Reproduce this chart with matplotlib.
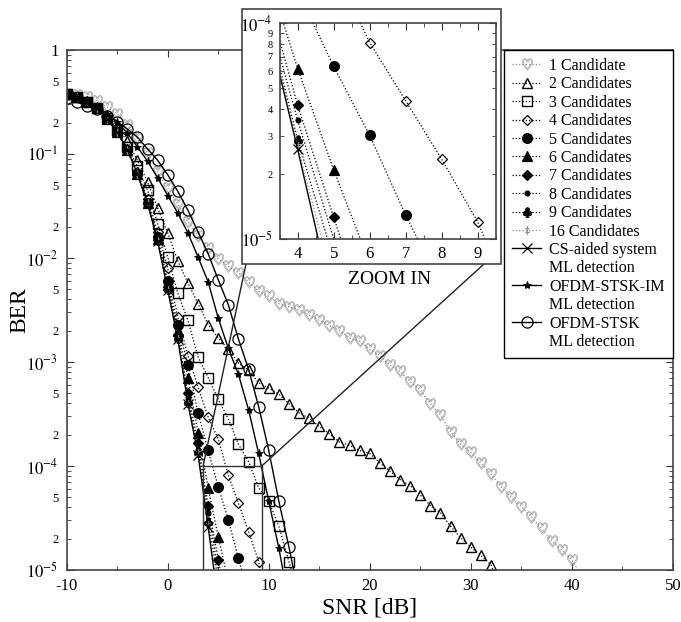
import numpy as np
import matplotlib
matplotlib.use("Agg")
import matplotlib.pyplot as plt
from matplotlib.ticker import LogLocator, FuncFormatter, MultipleLocator
from matplotlib.lines import Line2D
from matplotlib.patches import Rectangle, ConnectionPatch

plt.rcParams['font.family'] = ['Liberation Serif', 'DejaVu Serif']
plt.rcParams['mathtext.fontset'] = 'stix'
plt.rcParams['axes.unicode_minus'] = False

# BER, one value per dB starting at -10 dB
# end_* = SNR where the curve leaves the plot at BER = 1e-5
ber_1 = [3.80e-1, 3.72e-1, 3.55e-1, 3.24e-1, 2.82e-1, 2.45e-1, 1.91e-1, 1.41e-1, 1.02e-1, 6.76e-2,
         4.68e-2, 3.31e-2, 2.24e-2, 1.62e-2, 1.26e-2, 9.77e-3, 8.32e-3, 7.24e-3, 5.89e-3, 4.79e-3,
         4.27e-3, 3.63e-3, 3.39e-3, 3.16e-3, 2.82e-3, 2.51e-3, 2.24e-3, 2.00e-3, 1.70e-3, 1.58e-3,
         1.32e-3, 1.15e-3, 9.33e-4, 8.13e-4, 6.46e-4, 5.37e-4, 3.98e-4, 3.09e-4, 2.14e-4, 1.62e-4,
         1.35e-4, 1.07e-4, 8.32e-5, 6.31e-5, 5.01e-5, 4.07e-5, 3.24e-5, 2.51e-5, 1.91e-5, 1.55e-5,
         1.26e-5]
end_1 = 40.6
ber_2 = [3.80e-1, 3.55e-1, 3.24e-1, 2.82e-1, 2.34e-1, 1.82e-1, 1.32e-1, 8.71e-2, 5.37e-2, 3.02e-2,
         1.74e-2, 9.33e-3, 5.75e-3, 3.63e-3, 2.29e-3, 1.70e-3, 1.32e-3, 9.77e-4, 8.32e-4, 6.31e-4,
         5.62e-4, 4.90e-4, 3.98e-4, 3.24e-4, 2.88e-4, 2.40e-4, 2.04e-4, 1.70e-4, 1.58e-4, 1.41e-4,
         1.32e-4, 1.07e-4, 8.91e-5, 7.41e-5, 6.46e-5, 5.25e-5, 4.17e-5, 3.55e-5, 2.63e-5, 2.04e-5,
         1.66e-5, 1.38e-5, 1.12e-5]
end_2 = 32.2
ber_3 = [3.80e-1, 3.55e-1, 3.16e-1, 2.75e-1, 2.24e-1, 1.70e-1, 1.17e-1, 7.59e-2, 4.47e-2, 2.14e-2,
         1.02e-2, 4.57e-3, 2.51e-3, 1.12e-3, 7.08e-4, 4.37e-4, 2.82e-4, 1.62e-4, 1.10e-4, 6.17e-5,
         4.57e-5, 2.63e-5, 1.20e-5]
end_3 = 12.25
ber_4 = [3.80e-1, 3.55e-1, 3.16e-1, 2.75e-1, 2.19e-1, 1.66e-1, 1.12e-1, 6.76e-2, 3.72e-2, 1.78e-2,
         7.94e-3, 2.69e-3, 1.15e-3, 5.75e-4, 2.95e-4, 1.82e-4, 8.13e-5, 4.37e-5, 2.34e-5, 1.20e-5]
end_4 = 9.2
ber_5 = [3.80e-1, 3.55e-1, 3.16e-1, 2.75e-1, 2.19e-1, 1.62e-1, 1.10e-1, 6.46e-2, 3.39e-2, 1.58e-2,
         6.03e-3, 2.29e-3, 9.33e-4, 3.24e-4, 1.41e-4, 6.31e-5, 3.02e-5, 1.29e-5]
end_5 = 7.33
ber_6 = [3.80e-1, 3.55e-1, 3.16e-1, 2.75e-1, 2.19e-1, 1.62e-1, 1.10e-1, 6.46e-2, 3.39e-2, 1.51e-2,
         5.50e-3, 2.00e-3, 7.08e-4, 2.09e-4, 6.17e-5, 2.09e-5]
end_6 = 5.74
ber_7 = [3.80e-1, 3.55e-1, 3.16e-1, 2.75e-1, 2.19e-1, 1.62e-1, 1.10e-1, 6.46e-2, 3.39e-2, 1.48e-2,
         5.25e-3, 1.82e-3, 5.01e-4, 1.66e-4, 4.17e-5, 1.26e-5]
end_7 = 5.2
ber_8 = [3.80e-1, 3.55e-1, 3.16e-1, 2.75e-1, 2.19e-1, 1.62e-1, 1.10e-1, 6.46e-2, 3.39e-2, 1.48e-2,
         5.01e-3, 1.74e-3, 4.47e-4, 1.41e-4, 3.55e-5]
end_8 = 5.0
ber_9 = [3.80e-1, 3.55e-1, 3.16e-1, 2.75e-1, 2.19e-1, 1.62e-1, 1.10e-1, 6.46e-2, 3.39e-2, 1.48e-2,
         5.01e-3, 1.70e-3, 4.17e-4, 1.35e-4, 2.88e-5]
end_9 = 4.83
ber_16 = [3.80e-1, 3.55e-1, 3.16e-1, 2.75e-1, 2.19e-1, 1.62e-1, 1.10e-1, 6.46e-2, 3.39e-2, 1.45e-2,
          4.90e-3, 1.66e-3, 3.98e-4, 1.32e-4, 2.69e-5]
end_16 = 4.67
ber_cs = [3.80e-1, 3.55e-1, 3.16e-1, 2.75e-1, 2.19e-1, 1.62e-1, 1.10e-1, 6.46e-2, 3.39e-2, 1.45e-2,
          4.90e-3, 1.66e-3, 3.98e-4, 1.29e-4, 2.60e-5]
end_cs = 4.57
ber_im = [3.72e-1, 3.47e-1, 3.16e-1, 2.82e-1, 2.45e-1, 2.04e-1, 1.58e-1, 1.17e-1, 8.51e-2, 5.89e-2,
          3.98e-2, 2.69e-2, 1.74e-2, 1.02e-2, 5.89e-3, 2.63e-3, 1.35e-3, 7.59e-4, 3.47e-4, 1.32e-4,
          4.57e-5, 1.62e-5]
end_im = 11.4
ber_stsk = [3.47e-1, 3.16e-1, 2.88e-1, 2.69e-1, 2.34e-1, 2.04e-1, 1.74e-1, 1.45e-1, 1.12e-1, 8.71e-2,
            6.31e-2, 4.37e-2, 2.88e-2, 1.78e-2, 1.10e-2, 6.17e-3, 3.55e-3, 1.66e-3, 8.51e-4, 3.72e-4,
            1.41e-4, 4.57e-5, 1.66e-5]
end_stsk = 12.47

snr_start = -10
ber_floor = 1e-5

gray = '#8c8c8c'
series = [
    # label, ber, end, marker, size, color, facecolor, linestyle, edge width
    ('1 Candidate', ber_1, end_1, r'$\heartsuit$', 8.5, gray, 'none', ':', 0.4),
    ('2 Candidates', ber_2, end_2, '^', 7, 'k', 'none', ':', 1.0),
    ('3 Candidates', ber_3, end_3, 's', 6.5, 'k', 'none', ':', 1.0),
    ('4 Candidates', ber_4, end_4, 'D', 5, 'k', 'none', ':', 0.9),
    ('5 Candidates', ber_5, end_5, 'o', 7, 'k', 'k', ':', 0.9),
    ('6 Candidates', ber_6, end_6, '^', 7, 'k', 'k', ':', 0.9),
    ('7 Candidates', ber_7, end_7, 'D', 5.5, 'k', 'k', ':', 0.9),
    ('8 Candidates', ber_8, end_8, 'o', 3.5, 'k', 'k', ':', 0.9),
    ('9 Candidates', ber_9, end_9, r'$\clubsuit$', 7, 'k', 'k', ':', 0.5),
    ('16 Candidates', ber_16, end_16, r'$\ddag$', 6, gray, gray, ':', 0.4),
    ('CS-aided system', ber_cs, end_cs, 'x', 7, 'k', 'k', '-', 0.9),
    ('OFDM-STSK-IM', ber_im, end_im, '*', 6, 'k', 'k', '-', 0.6),
    ('OFDM-STSK', ber_stsk, end_stsk, 'o', 8, 'k', 'none', '-', 0.9),
]
inset_series = series[3:11]  # 4 ... 16 candidates and the CS-aided curve

fig = plt.figure(figsize=(6.81, 6.22), dpi=100)
ax = fig.add_axes([0.098, 0.0836, 0.890, 0.836])
axin = fig.add_axes([0.4107, 0.6158, 0.3172, 0.3468], zorder=5)


def draw(a, items):
    lines = []
    for label, ber, end, mk, ms, col, mfc, ls, mew in items:
        snr = np.arange(snr_start, snr_start + len(ber))
        xs = np.append(snr, end)
        ys = np.append(ber, ber_floor)
        lw = 0.9 if ls == ':' else 1.0
        ln, = a.plot(xs, ys, linestyle=ls, color=col, lw=lw, marker=mk, ms=ms,
                     mfc=mfc, mec=col, mew=mew, markevery=list(range(len(ber))), label=label)
        lines.append(ln)
    return lines


lines = draw(ax, series)
draw(axin, inset_series)

# main axes
ax.set_yscale('log')
ax.set_xlim(-10, 50)
ax.set_ylim(1e-5, 1)
ax.xaxis.set_major_locator(MultipleLocator(10))
ax.xaxis.set_minor_locator(MultipleLocator(5))
ax.yaxis.set_major_locator(LogLocator(base=10, numticks=10))
ax.yaxis.set_minor_locator(LogLocator(base=10, subs=np.arange(2, 10), numticks=10))


def major_fmt(v, p):
    e = int(round(np.log10(v)))
    return '1' if e == 0 else rf'$10^{{{e}}}$'


def minor_fmt(v, p):
    e = np.floor(np.log10(v) + 1e-9)
    d = int(round(v / 10 ** e))
    return str(d) if d in (2, 5) else ''


ax.yaxis.set_major_formatter(FuncFormatter(major_fmt))
ax.yaxis.set_minor_formatter(FuncFormatter(minor_fmt))
ax.tick_params(which='both', direction='in', top=True, right=True, colors='#333333')
ax.tick_params(which='major', length=5, labelsize=12, pad=6, labelcolor='k')
ax.tick_params(which='minor', length=3, labelsize=9, pad=6, labelcolor='k')
ax.tick_params(axis='x', which='minor', labelbottom=False)
for s in ax.spines.values():
    s.set_color('#444444')
    s.set_linewidth(1.2)
ax.set_xlabel('SNR [dB]', fontsize=17, labelpad=2)
ax.set_ylabel('BER', fontsize=17, labelpad=-3)

# zoomed region marker on the main axes
zx0, zx1, zy0, zy1 = 3.5, 9.3, 1e-5, 1e-4
ax.plot([zx0, zx0, zx1, zx1], [zy0, zy1, zy1, zy0], color='#333333', lw=1.0)

# legend (two-line entries split into a marker row and a text-only row)
blank = Line2D([], [], linestyle='none', marker='none')
handles = lines[:10] + [lines[10], blank, lines[11], blank, lines[12], blank]
labels = [l.get_label() for l in lines[:10]] + [
    'CS-aided system', 'ML detection', 'OFDM-STSK-IM', 'ML detection', 'OFDM-STSK', 'ML detection']
leg = ax.legend(handles, labels, loc='upper right', borderaxespad=0, fontsize=11.5,
                labelspacing=0.15, handlelength=1.8, handletextpad=0.5, borderpad=0.5,
                numpoints=1, fancybox=False, edgecolor='k', framealpha=1)
leg.get_frame().set_linewidth(1.0)

# inset
axin.set_yscale('log')
axin.set_xlim(3.5, 9.5)
axin.set_ylim(1e-5, 1e-4)
axin.xaxis.set_major_locator(MultipleLocator(1))
axin.xaxis.set_minor_locator(MultipleLocator(0.5))
axin.yaxis.set_major_locator(LogLocator(base=10, numticks=5))
axin.yaxis.set_minor_locator(LogLocator(base=10, subs=np.arange(2, 10), numticks=5))
axin.yaxis.set_major_formatter(FuncFormatter(major_fmt))
axin.yaxis.set_minor_formatter(FuncFormatter(lambda v, p: str(int(round(v / 1e-5)))))
axin.tick_params(which='both', direction='in', top=True, right=True, colors='#333333')
axin.tick_params(which='major', length=5, labelsize=12, pad=5, labelcolor='k')
axin.tick_params(which='minor', length=3, labelsize=7.5, pad=5, labelcolor='k')
axin.tick_params(axis='x', which='minor', labelbottom=False)
for s in axin.spines.values():
    s.set_color('#444444')
    s.set_linewidth(1.2)

# frame round the inset and the connecting lines
W, H = 681.0, 622.0
box = Rectangle((242 / W, 1 - 264 / H), 259 / W, 255 / H, transform=fig.transFigure,
                facecolor='white', edgecolor='#444444', lw=1.2, zorder=3)
fig.add_artist(box)
fig.text(390 / W, 1 - 279 / H, 'ZOOM IN', ha='center', va='center', fontsize=14)
for xa, xb in ((zx0, 246), (zx1, 484)):
    con = ConnectionPatch(xyA=(xa, zy1), coordsA=ax.transData,
                          xyB=(xb / W, 1 - 264 / H), coordsB=fig.transFigure,
                          color='#222222', lw=1.0)
    fig.add_artist(con)

fig.savefig('out.png', dpi=100)
